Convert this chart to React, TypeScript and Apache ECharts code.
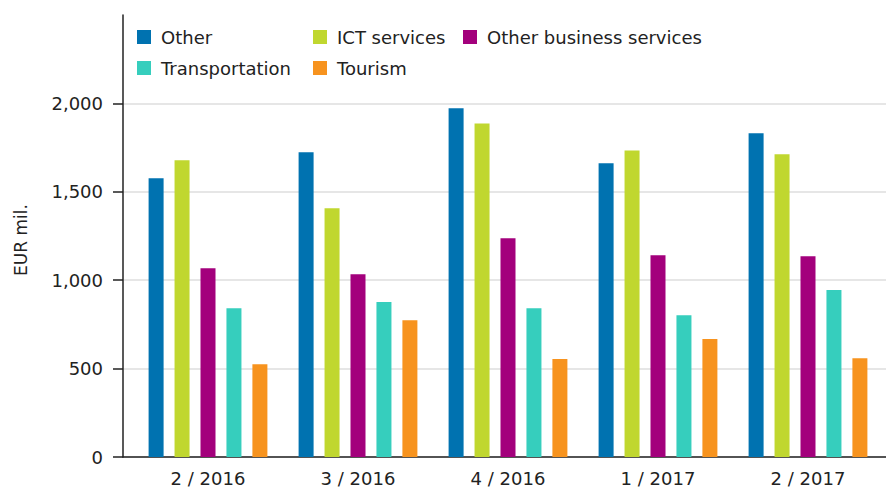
import React, { useEffect, useRef } from "react";
import * as echarts from "echarts";

const categories = ["2 / 2016", "3 / 2016", "4 / 2016", "1 / 2017", "2 / 2017"];
const seriesNames = ["Other", "ICT services", "Other business services", "Transportation", "Tourism"];
const other = [1576, 1723, 1972, 1661, 1831];
const ict = [1678, 1407, 1887, 1734, 1712];
const otherBusiness = [1068, 1034, 1237, 1141, 1136];
const transportation = [842, 876, 842, 802, 944];
const tourism = [525, 774, 554, 667, 559];
const yTicks = [0, 500, 1000, 1500, 2000];
const colors = ["#0072b0", "#c0d72f", "#a3007c", "#36cebd", "#f7931e"];

const FONT = "DejaVu Sans";
const FS = 18;

export default function App() {
  const ref = useRef<HTMLDivElement>(null);
  useEffect(() => {
    if (!ref.current) return;
    const chart = echarts.init(ref.current, undefined, { renderer: "svg" });
    const values = [other, ict, otherBusiness, transportation, tourism];
    const legendBase = {
      orient: "vertical" as const,
      top: 28,
      icon: "rect",
      itemWidth: 14,
      itemHeight: 14,
      itemGap: 13,
      padding: 0,
      textStyle: { fontFamily: FONT, fontSize: FS, color: "#222", padding: [0, 0, 0, 5] },
    };
    chart.setOption({
      animation: false,
      color: colors,
      textStyle: { fontFamily: FONT },
      legend: [
        { ...legendBase, left: 137, data: ["Other", "Transportation"] },
        { ...legendBase, left: 313, data: ["ICT services", "Tourism"] },
        { ...legendBase, left: 463, data: ["Other business services"] },
      ],
      graphic: [
        {
          type: "text",
          x: 21,
          y: 240,
          rotation: Math.PI / 2,
          style: {
            text: "EUR mil.",
            fontFamily: FONT,
            fontSize: 17,
            fill: "#222",
            align: "center",
            verticalAlign: "middle",
          },
        },
      ],
      grid: [
        { left: 123, right: 0, top: 15, bottom: 36 },
        { left: 133, right: 3, top: 15, bottom: 36 },
      ],
      xAxis: [
        {
          gridIndex: 0,
          type: "category",
          data: categories,
          axisLine: { show: true, lineStyle: { color: "#222", width: 1.5 } },
          axisTick: { show: false },
          axisLabel: { show: false },
        },
        {
          gridIndex: 1,
          type: "category",
          data: categories,
          axisLine: { show: false },
          axisTick: { show: false },
          axisLabel: { fontFamily: FONT, fontSize: FS, color: "#222", margin: 12 },
        },
      ],
      yAxis: [
        {
          gridIndex: 0,
          type: "value",
          min: 0,
          max: 2500,
          interval: 500,
          axisLine: { show: true, lineStyle: { color: "#222", width: 1.5 } },
          axisTick: { show: true, length: 10, customValues: yTicks, lineStyle: { color: "#222", width: 1.5 } },
          axisLabel: {
            customValues: yTicks,
            margin: 20,
            fontFamily: FONT,
            fontSize: FS,
            color: "#222",
            formatter: (v: number) => v.toLocaleString("en-US"),
          },
          splitLine: { show: true, lineStyle: { color: "#e6e6e6", width: 2 } },
        },
        {
          gridIndex: 1,
          type: "value",
          min: 0,
          max: 2500,
          interval: 500,
          show: false,
          splitLine: { show: false },
        },
      ],
      series: seriesNames.map((name, i) => ({
        name,
        type: "bar",
        xAxisIndex: 1,
        yAxisIndex: 1,
        data: values[i],
        barWidth: 15,
        barGap: "73%",
        itemStyle: { color: colors[i] },
      })),
    });
    return () => chart.dispose();
  }, []);
  return <div ref={ref} style={{ width: 886, height: 493, position: "absolute", left: 0, top: 0 }} />;
}
